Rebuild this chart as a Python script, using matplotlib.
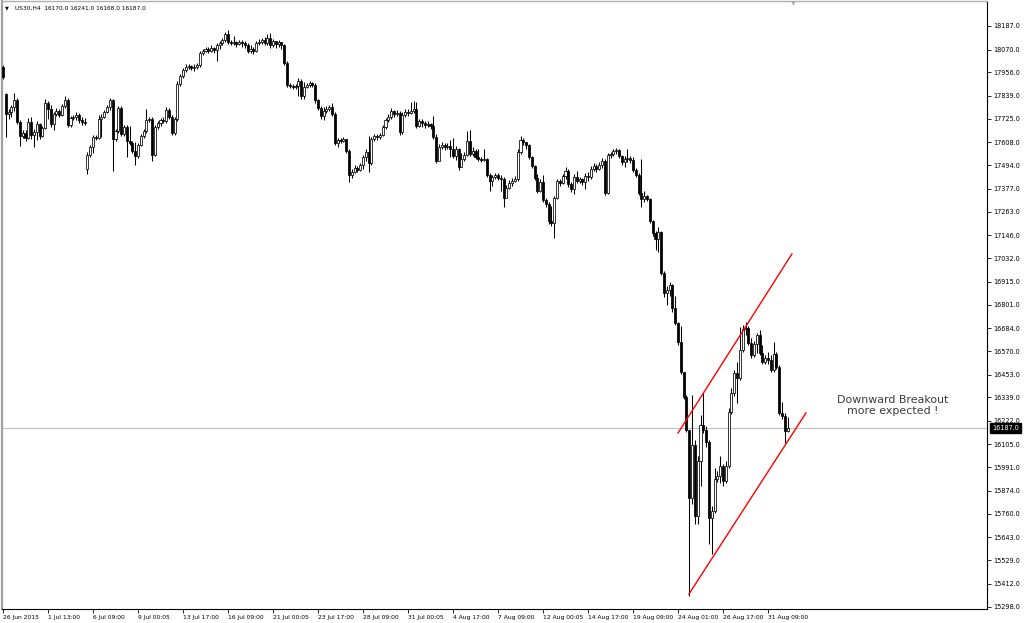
import matplotlib
matplotlib.use("Agg")
import matplotlib.pyplot as plt
from matplotlib.transforms import blended_transform_factory

# ---------------- data (US30 H4) ----------------
first_open = 17985
gap_opens = {1: 17850, 30: 17475, 279: 16170}

closes = [
    17935, 17750, 17760, 17785, 17820, 17710, 17640, 17655, 17630, 17710,
    17645, 17660, 17700, 17640, 17680, 17805, 17775, 17700, 17750, 17765,
    17745, 17790, 17820, 17695, 17730, 17735, 17745, 17720, 17710, 17705,
    17545, 17585, 17635, 17630, 17725, 17735, 17760, 17785, 17820, 17625,
    17665, 17780, 17650, 17685, 17615, 17605, 17565, 17540, 17595, 17640,
    17665, 17720, 17725, 17545, 17685, 17705, 17720, 17715, 17770, 17735,
    17655, 17725, 17900, 17940, 17970, 17985, 17990, 17980, 17985, 17995,
    18055, 18065, 18075, 18065, 18080, 18070, 18090, 18100, 18115, 18145,
    18105, 18100, 18105, 18095, 18105, 18100, 18090, 18065, 18075, 18065,
    18100, 18105, 18115, 18100, 18125, 18090, 18110, 18095, 18105, 18090,
    18005, 17895, 17890, 17885, 17890, 17915, 17840, 17885, 17895, 17905,
    17895, 17820, 17780, 17740, 17765, 17775, 17785, 17750, 17605, 17620,
    17615, 17625, 17565, 17445, 17460, 17480, 17470, 17495, 17535, 17560,
    17505, 17625, 17640, 17635, 17645, 17685, 17720, 17735, 17765, 17750,
    17755, 17660, 17745, 17760, 17755, 17765, 17775, 17690, 17715, 17705,
    17695, 17700, 17690, 17635, 17515, 17585, 17595, 17585, 17590, 17575,
    17540, 17575, 17485, 17525, 17545, 17615, 17550, 17565, 17535, 17525,
    17520, 17525, 17445, 17415, 17435, 17445, 17430, 17425, 17330, 17380,
    17405, 17415, 17425, 17560, 17620, 17610, 17595, 17535, 17490, 17430,
    17365, 17410, 17320, 17300, 17215, 17205, 17330, 17415, 17405, 17440,
    17465, 17400, 17375, 17435, 17415, 17425, 17410, 17440, 17435, 17475,
    17490, 17475, 17495, 17515, 17355, 17545, 17550, 17565, 17570, 17540,
    17510, 17525, 17530, 17520, 17470, 17445, 17355, 17325, 17340, 17325,
    17215, 17155, 17125, 17160, 16960, 16860, 16875, 16900, 16785, 16710,
    16615, 16465, 16340, 16175, 15840, 16100, 15750, 16025, 16200, 16175,
    16115, 15740, 15775, 15935, 15950, 16000, 15925, 16000, 16265, 16360,
    16460, 16435, 16575, 16680, 16685, 16610, 16550, 16605, 16650, 16560,
    16515, 16535, 16525, 16475, 16555, 16490, 16260, 16245, 16170, 16187,
]

highs = [
    17995, 17855, 17775, 17795, 17855, 17830, 17720, 17670, 17670, 17730,
    17735, 17675, 17715, 17705, 17690, 17825, 17815, 17795, 17760, 17780,
    17775, 17800, 17840, 17830, 17740, 17745, 17760, 17755, 17735, 17730,
    17560, 17595, 17645, 17645, 17745, 17750, 17770, 17795, 17830, 17825,
    17675, 17790, 17790, 17695, 17695, 17690, 17615, 17610, 17605, 17650,
    17675, 17775, 17735, 17735, 17695, 17715, 17730, 17735, 17785, 17780,
    17745, 17735, 17915, 17950, 17980, 18000, 18000, 17995, 18000, 18005,
    18065, 18075, 18085, 18085, 18090, 18085, 18100, 18110, 18125, 18155,
    18165, 18115, 18135, 18110, 18115, 18115, 18110, 18100, 18090, 18085,
    18110, 18120, 18125, 18130, 18145, 18150, 18120, 18110, 18115, 18105,
    18095, 18015, 17905, 17900, 17900, 17930, 17925, 17910, 17905, 17915,
    17910, 17905, 17825, 17790, 17785, 17790, 17795, 17805, 17760, 17630,
    17630, 17635, 17625, 17575, 17475, 17495, 17490, 17505, 17545, 17575,
    17640, 17635, 17650, 17650, 17655, 17695, 17730, 17750, 17780, 17770,
    17770, 17765, 17760, 17775, 17775, 17810, 17815, 17810, 17725, 17725,
    17715, 17715, 17705, 17740, 17650, 17600, 17610, 17605, 17605, 17620,
    17630, 17590, 17580, 17555, 17560, 17665, 17670, 17585, 17575, 17575,
    17535, 17575, 17530, 17455, 17445, 17455, 17455, 17445, 17435, 17395,
    17420, 17430, 17440, 17575, 17640, 17630, 17610, 17600, 17540, 17495,
    17450, 17425, 17445, 17330, 17310, 17290, 17340, 17425, 17425, 17450,
    17485, 17475, 17410, 17450, 17465, 17435, 17430, 17455, 17460, 17490,
    17505, 17500, 17510, 17530, 17525, 17555, 17560, 17575, 17580, 17575,
    17545, 17540, 17575, 17540, 17535, 17480, 17455, 17525, 17365, 17345,
    17330, 17220, 17165, 17185, 17165, 16970, 16895, 16915, 16905, 16845,
    16715, 16695, 16435, 16350, 16175, 16350, 16125, 16050, 16250, 16360,
    16195, 16125, 15800, 15990, 15975, 16050, 16010, 16025, 16285, 16385,
    16475, 16515, 16690, 16700, 16715, 16695, 16635, 16620, 16660, 16675,
    16600, 16550, 16565, 16550, 16615, 16565, 16500, 16315, 16260, 16241,
]

lows = [
    17925, 17635, 17725, 17735, 17765, 17700, 17590, 17630, 17615, 17625,
    17625, 17585, 17620, 17625, 17635, 17675, 17725, 17685, 17670, 17740,
    17735, 17740, 17780, 17685, 17685, 17720, 17720, 17705, 17695, 17695,
    17450, 17535, 17555, 17620, 17625, 17635, 17730, 17755, 17770, 17465,
    17615, 17655, 17640, 17640, 17535, 17595, 17555, 17495, 17530, 17590,
    17630, 17655, 17710, 17515, 17540, 17675, 17690, 17705, 17705, 17725,
    17645, 17645, 17715, 17890, 17930, 17960, 17975, 17970, 17965, 17975,
    17985, 18045, 18060, 18055, 18060, 18055, 18015, 18075, 18090, 18105,
    18095, 18090, 18090, 18085, 18090, 18085, 18080, 18055, 18055, 18050,
    18060, 18090, 18095, 18090, 18090, 18080, 18085, 18080, 18085, 18075,
    17995, 17885, 17880, 17875, 17875, 17840, 17825, 17825, 17880, 17885,
    17885, 17805, 17770, 17725, 17720, 17755, 17765, 17740, 17595, 17585,
    17605, 17610, 17555, 17410, 17430, 17455, 17460, 17465, 17475, 17515,
    17460, 17495, 17615, 17620, 17625, 17640, 17675, 17710, 17725, 17735,
    17740, 17645, 17650, 17735, 17740, 17750, 17755, 17680, 17685, 17685,
    17680, 17685, 17675, 17625, 17505, 17525, 17575, 17570, 17575, 17535,
    17530, 17520, 17470, 17505, 17515, 17540, 17540, 17540, 17525, 17515,
    17510, 17515, 17435, 17365, 17390, 17425, 17420, 17365, 17285, 17345,
    17375, 17390, 17410, 17415, 17550, 17595, 17575, 17525, 17480, 17420,
    17355, 17360, 17310, 17285, 17200, 17190, 17130, 17325, 17390, 17400,
    17425, 17385, 17360, 17350, 17405, 17405, 17395, 17375, 17415, 17425,
    17465, 17460, 17470, 17480, 17345, 17350, 17530, 17540, 17550, 17530,
    17495, 17485, 17510, 17505, 17460, 17435, 17345, 17285, 17310, 17315,
    17205, 17140, 17075, 17065, 16950, 16840, 16800, 16845, 16765, 16700,
    16600, 16455, 16330, 16165, 15350, 15810, 15710, 15710, 15900, 16160,
    16095, 15610, 15560, 15765, 15920, 15915, 15900, 15915, 15990, 16255,
    16345, 16310, 16425, 16565, 16650, 16600, 16535, 16540, 16560, 16550,
    16505, 16505, 16505, 16465, 16465, 16480, 16250, 16230, 16110, 16168,
]

bid_price = 16187
header_text = "US30,H4  16170.0 16241.0 16168.0 16187.0"

price_ticks = [18187, 18070, 17956, 17839, 17725, 17608, 17494, 17377, 17263,
               17146, 17032, 16915, 16801, 16684, 16570, 16453, 16339, 16222,
               16105, 15991, 15874, 15760, 15643, 15529, 15412, 15298]

time_tick_step = 16
time_labels = ["26 Jun 2015", "1 Jul 13:00", "6 Jul 09:00", "9 Jul 00:05",
               "13 Jul 17:00", "16 Jul 09:00", "21 Jul 00:05", "23 Jul 17:00",
               "28 Jul 09:00", "31 Jul 00:05", "4 Aug 17:00", "7 Aug 09:00",
               "12 Aug 00:05", "14 Aug 17:00", "19 Aug 09:00", "24 Aug 01:00",
               "26 Aug 17:00", "31 Aug 09:00"]

# trend lines (bar index, price)
upper_line_x = [240.0, 280.5]
upper_line_y = [16162, 17053]
lower_line_x = [243.9, 285.5]
lower_line_y = [15361, 16262]

note_text = "Downward Breakout\nmore expected !"
note_x, note_y = 316.4, 16299

# ---------------- figure ----------------
W, H = 1024, 623
fig = plt.figure(figsize=(W / 100, H / 100), dpi=100)
fig.patch.set_facecolor("white")

axL, axR, axT, axB = 2, 987, 1, 609
ax = fig.add_axes([axL / W, 1 - axB / H, (axR - axL) / W, (axB - axT) / H])
ax.set_facecolor("white")

bar_px = 2.8125
x0_px = 3
px_per_pt = 1 / 4.975
ref_price, ref_px = 18187, 26


def price_at(py):
    return ref_price - (py - ref_px) / px_per_pt


ax.set_xlim((axL - x0_px) / bar_px, (axR - x0_px) / bar_px)
ax.set_ylim(price_at(axB), price_at(axT))

n = len(closes)
opens = [first_open] + closes[:-1]
for k, v in gap_opens.items():
    opens[k] = v
xs = list(range(n))

# wicks
hi = [max(h, o, c) for h, o, c in zip(highs, opens, closes)]
lo = [min(l, o, c) for l, o, c in zip(lows, opens, closes)]
ax.vlines(xs, lo, hi, colors="black", linewidth=0.75, zorder=2)

# bodies
bottoms = [min(o, c) for o, c in zip(opens, closes)]
heights = [max(abs(c - o), 2) for o, c in zip(opens, closes)]
faces = ["white" if c >= o else "black" for o, c in zip(opens, closes)]
ax.bar(xs, heights, bottom=bottoms, width=0.72, color=faces,
       edgecolor="black", linewidth=0.55, zorder=3)

# bid line
ax.axhline(bid_price, color="#c0c0c0", linewidth=0.8, zorder=1)

# trend lines
ax.plot(upper_line_x, upper_line_y, color="#ff0000", linewidth=1.0, zorder=4)
ax.plot(lower_line_x, lower_line_y, color="#ff0000", linewidth=1.0, zorder=4)

# note
ax.text(note_x, note_y, note_text, ha="center", va="center", fontsize=7.9,
        color="#3c3c3c", linespacing=1.1, zorder=5)

# axes styling
for s in ["bottom", "right"]:
    ax.spines[s].set_color("black")
    ax.spines[s].set_linewidth(0.8)
ax.spines["left"].set_color("#a0a0a0")
ax.spines["left"].set_linewidth(1.6)
ax.spines["top"].set_color("#b0b0b0")
ax.spines["top"].set_linewidth(1.0)

ax.yaxis.tick_right()
ax.set_yticks(price_ticks)
ax.set_yticklabels([f"{v:.1f}" for v in price_ticks])
ax.tick_params(axis="y", direction="out", length=3, width=0.6, pad=1.8,
               labelsize=4.7, colors="black")

tick_pos = [i * time_tick_step for i in range(len(time_labels))]
ax.set_xticks(tick_pos)
ax.set_xticklabels(time_labels)
ax.tick_params(axis="x", direction="out", length=3, width=0.6, pad=1.2,
               labelsize=4.3, colors="black")
for lbl in ax.get_xticklabels():
    lbl.set_horizontalalignment("left")

# bid price box on axis
trans = blended_transform_factory(ax.transAxes, ax.transData)
ax.text(1.0 + 5 / (axR - axL), bid_price, f"{bid_price:.1f}", transform=trans,
        ha="left", va="center", fontsize=4.7, color="white", zorder=10,
        bbox=dict(boxstyle="square,pad=0.3", fc="black", ec="black"))

# header
fig.text(5 / W, 1 - 8 / H, "\u25BC", fontsize=3.6, color="black",
         ha="left", va="center")
fig.text(15 / W, 1 - 8 / H, header_text, fontsize=4.2, color="black",
         ha="left", va="center")
# chart shift marker
fig.text(793 / W, 1 - 4 / H, "\u25BC", fontsize=4.5, color="#a8a8a8",
         ha="center", va="center")

fig.savefig("out.png", dpi=100, facecolor="white")
